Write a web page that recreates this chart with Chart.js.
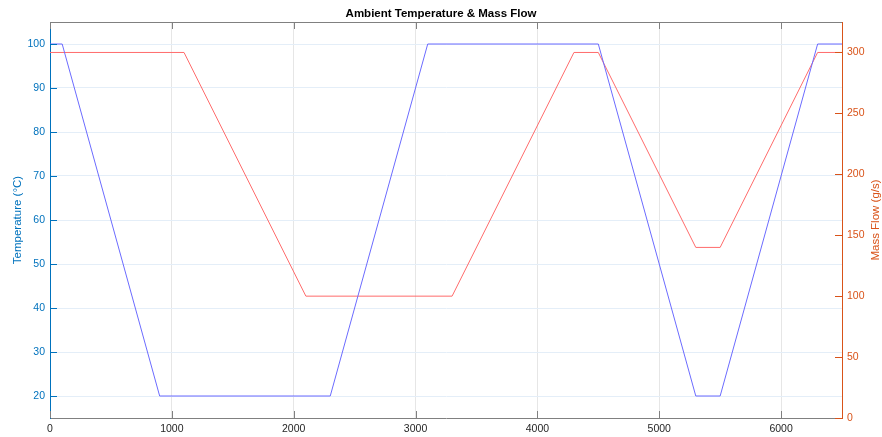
<!DOCTYPE html>
<html>
<head>
<meta charset="utf-8">
<script src="https://cdn.jsdelivr.net/npm/chart.js@4"></script>
<style>
  html, body { margin: 0; padding: 0; background: #fff; }
  #wrap { width: 882px; height: 437px; }
</style>
</head>
<body>
<div id="wrap"><canvas id="chart" width="882" height="437"></canvas></div>
<script>
// --- DATA ---
const tempTime = [0, 100, 900, 2300, 3100, 4500, 5300, 5500, 6300, 6500];
const temperature = [100, 100, 20, 20, 100, 100, 20, 20, 100, 100];
const flowTime = [0, 1100, 2100, 3300, 4300, 4500, 5300, 5500, 6300, 6500];
const massFlow = [300, 300, 100, 100, 300, 300, 140, 140, 300, 300];
const xTicks = [0, 1000, 2000, 3000, 4000, 5000, 6000];
const tempTicks = [20, 30, 40, 50, 60, 70, 80, 90, 100];
const flowTicks = [0, 50, 100, 150, 200, 250, 300];

const FONT = "'Liberation Sans', Arial, Helvetica, sans-serif";
const BLUE = '#0072BD';
const ORANGE = '#D95319';
const GRAY = '#808080';

// petits traits intérieurs + cadre du haut (style MATLAB)
const innerTicks = {
    id: 'innerTicks',
    afterDraw(chart) {
        const { ctx, chartArea: a, scales } = chart;
        const len = 7;
        ctx.save();
        ctx.lineWidth = 1;

        ctx.strokeStyle = GRAY;
        ctx.beginPath();
        ctx.moveTo(a.left, a.top + 0.5);
        ctx.lineTo(a.right, a.top + 0.5);
        xTicks.forEach(v => {
            const px = Math.round(scales.x.getPixelForValue(v)) + 0.5;
            ctx.moveTo(px, a.bottom);
            ctx.lineTo(px, a.bottom - len);
            ctx.moveTo(px, a.top);
            ctx.lineTo(px, a.top + len);
        });
        ctx.stroke();

        ctx.strokeStyle = BLUE;
        ctx.beginPath();
        tempTicks.forEach(v => {
            const py = Math.round(scales.y.getPixelForValue(v)) + 0.5;
            ctx.moveTo(a.left, py);
            ctx.lineTo(a.left + len, py);
        });
        ctx.stroke();

        ctx.strokeStyle = ORANGE;
        ctx.beginPath();
        flowTicks.forEach(v => {
            const py = Math.round(scales.y1.getPixelForValue(v)) + 0.5;
            ctx.moveTo(a.right, py);
            ctx.lineTo(a.right - len, py);
        });
        ctx.stroke();

        // titre de l'axe droit, lu de bas en haut comme à gauche
        ctx.fillStyle = ORANGE;
        ctx.font = '11.5px ' + FONT;
        ctx.textAlign = 'center';
        ctx.textBaseline = 'middle';
        ctx.translate(876, (a.top + a.bottom) / 2);
        ctx.rotate(-Math.PI / 2);
        ctx.fillText('Mass Flow (g/s)', 0, 0);
        ctx.restore();
    }
};

const setTicks = list => scale => { scale.ticks = list.map(v => ({ value: v })); };

new Chart(document.getElementById('chart'), {
    type: 'line',
    data: {
        datasets: [{
            label: 'Temperature',
            data: tempTime.map((t, i) => ({ x: t, y: temperature[i] })),
            borderColor: '#6b6bff',
            borderWidth: 1,
            pointRadius: 0,
            tension: 0,
            yAxisID: 'y'
        }, {
            label: 'Mass Flow',
            data: flowTime.map((t, i) => ({ x: t, y: massFlow[i] })),
            borderColor: '#ff6b6b',
            borderWidth: 1,
            pointRadius: 0,
            tension: 0,
            yAxisID: 'y1'
        }]
    },
    options: {
        responsive: false,
        animation: false,
        layout: { padding: 0 },
        plugins: {
            legend: { display: false },
            tooltip: { enabled: false },
            title: {
                display: true,
                text: 'Ambient Temperature & Mass Flow',
                color: '#000',
                font: { family: FONT, size: 11.5, weight: 'bold' },
                padding: { top: 7, bottom: 1.2 }
            }
        },
        scales: {
            x: {
                type: 'linear',
                min: 0,
                max: 6500,
                afterBuildTicks: setTicks(xTicks),
                afterFit: s => { s.height = 19; },
                grid: { color: '#e6e6e6', drawTicks: false },
                border: { color: GRAY },
                ticks: {
                    color: '#262626',
                    padding: 5,
                    maxRotation: 0,
                    callback: v => String(v),
                    font: { family: FONT, size: 10.5 }
                }
            },
            y: {
                position: 'left',
                min: 15,
                max: 105,
                afterBuildTicks: setTicks(tempTicks),
                afterFit: s => { s.width = 50; },
                grid: { color: '#e4eef8', drawTicks: false },
                border: { color: BLUE },
                ticks: { color: BLUE, padding: 5, font: { family: FONT, size: 10.5 } },
                title: {
                    display: true,
                    text: 'Temperature (°C)',
                    color: BLUE,
                    padding: { top: 11 },
                    font: { family: FONT, size: 11.5 }
                }
            },
            y1: {
                position: 'right',
                min: 0,
                max: 325,
                afterBuildTicks: setTicks(flowTicks),
                afterFit: s => { s.width = 40; },
                grid: { display: false, drawTicks: false },
                border: { color: ORANGE },
                ticks: { color: ORANGE, padding: 5, font: { family: FONT, size: 10.5 } }
            }
        }
    },
    plugins: [innerTicks]
});
</script>
</body>
</html>
